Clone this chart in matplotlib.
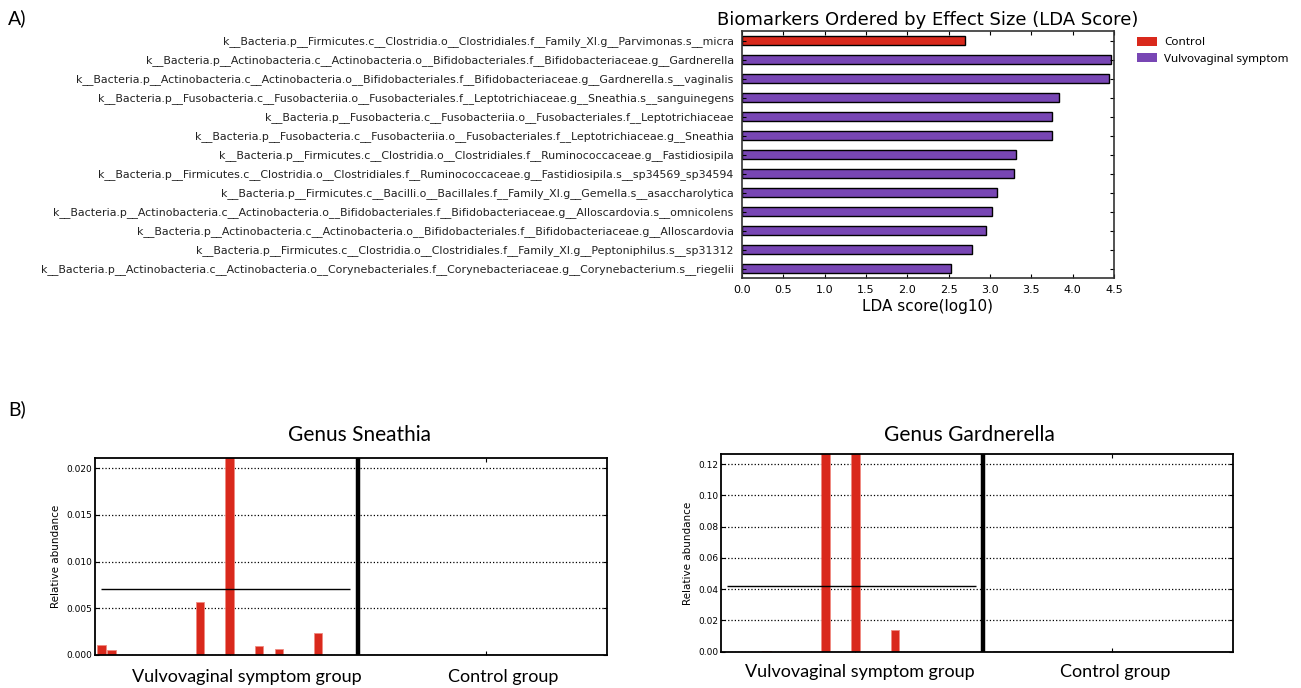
import matplotlib.pyplot as plt
from matplotlib.patches import Patch

# ---- panel A: LDA scores ----
taxa = [
    "k__Bacteria.p__Firmicutes.c__Clostridia.o__Clostridiales.f__Family_XI.g__Parvimonas.s__micra",
    "k__Bacteria.p__Actinobacteria.c__Actinobacteria.o__Bifidobacteriales.f__Bifidobacteriaceae.g__Gardnerella",
    "k__Bacteria.p__Actinobacteria.c__Actinobacteria.o__Bifidobacteriales.f__Bifidobacteriaceae.g__Gardnerella.s__vaginalis",
    "k__Bacteria.p__Fusobacteria.c__Fusobacteriia.o__Fusobacteriales.f__Leptotrichiaceae.g__Sneathia.s__sanguinegens",
    "k__Bacteria.p__Fusobacteria.c__Fusobacteriia.o__Fusobacteriales.f__Leptotrichiaceae",
    "k__Bacteria.p__Fusobacteria.c__Fusobacteriia.o__Fusobacteriales.f__Leptotrichiaceae.g__Sneathia",
    "k__Bacteria.p__Firmicutes.c__Clostridia.o__Clostridiales.f__Ruminococcaceae.g__Fastidiosipila",
    "k__Bacteria.p__Firmicutes.c__Clostridia.o__Clostridiales.f__Ruminococcaceae.g__Fastidiosipila.s__sp34569_sp34594",
    "k__Bacteria.p__Firmicutes.c__Bacilli.o__Bacillales.f__Family_XI.g__Gemella.s__asaccharolytica",
    "k__Bacteria.p__Actinobacteria.c__Actinobacteria.o__Bifidobacteriales.f__Bifidobacteriaceae.g__Alloscardovia.s__omnicolens",
    "k__Bacteria.p__Actinobacteria.c__Actinobacteria.o__Bifidobacteriales.f__Bifidobacteriaceae.g__Alloscardovia",
    "k__Bacteria.p__Firmicutes.c__Clostridia.o__Clostridiales.f__Family_XI.g__Peptoniphilus.s__sp31312",
    "k__Bacteria.p__Actinobacteria.c__Actinobacteria.o__Corynebacteriales.f__Corynebacteriaceae.g__Corynebacterium.s__riegelii",
]
lda = [2.70, 4.46, 4.44, 3.83, 3.75, 3.75, 3.32, 3.29, 3.09, 3.03, 2.95, 2.78, 2.53]
lda_class = ["Control"] + ["Vulvovaginal symptom"] * 12
class_colors = {"Control": "#d9291c", "Vulvovaginal symptom": "#7846b4"}

# ---- panel B: per-sample relative abundance ----
n_vv = 26
n_ctrl = 25
sneathia_vv = [0.00104, 0.0005, 0, 0, 0, 0, 0, 0, 0, 0, 0.00568, 0, 0, 0.1714,
               0, 0, 0.00096, 0, 0.00068, 0, 0, 0, 0.00239, 0, 0, 0]
sneathia_ctrl = [0] * n_ctrl
gard_vv = [0, 0, 0, 0, 0.0002, 0, 0, 0, 0, 0, 0.62, 0, 0, 0.461,
           0, 0, 0, 0.0138, 0, 0, 0, 0, 0, 0, 0, 0]
gard_ctrl = [0] * n_ctrl
group_names = ["Vulvovaginal symptom group", "Control group"]

bfont = "Lato"

fig = plt.figure(figsize=(13.01, 6.88), dpi=100)

# panel A
ax = fig.add_axes([0.5703, 0.5959, 0.2859, 0.359])
ypos = range(len(taxa))
ax.barh(ypos, lda, height=0.5, color=[class_colors[c] for c in lda_class],
        edgecolor="black", linewidth=1)
ax.set_ylim(12.5, -0.5)
ax.set_xlim(0, 4.5)
ax.set_yticks(list(ypos))
ax.set_yticklabels(taxa, fontsize=7.9, color="#222222")
ax.set_xticks([0.5 * i for i in range(10)])
ax.set_xticklabels(["%.1f" % (0.5 * i) for i in range(10)], fontsize=8)
ax.tick_params(direction="in", top=True, right=True, length=3, pad=5)
ax.tick_params(axis="y", length=3, pad=6)
for s in ax.spines.values():
    s.set_linewidth(1.2)
    s.set_color("#333333")
ax.set_title("Biomarkers Ordered by Effect Size (LDA Score)", fontsize=13, pad=4)
ax.set_xlabel("LDA score(log10)", fontsize=11, labelpad=3)
handles = [Patch(facecolor=class_colors[c], edgecolor="none", label=c)
           for c in ["Control", "Vulvovaginal symptom"]]
fig.legend(handles=handles, loc="upper left", bbox_to_anchor=(0.866, 0.962),
           frameon=False, prop={"family": "Noto Sans", "size": 8.4},
           handlelength=1.7, handleheight=0.8, handletextpad=0.6,
           labelspacing=0.45)


def abundance(rect, vv, ctrl, ticks, title, title_x):
    ax = fig.add_axes(rect)
    x_vv = list(range(n_vv))
    x_ctrl = [n_vv + 1 + i for i in range(len(ctrl))]
    ax.bar(x_vv, vv, width=0.86, color="#d9291c", edgecolor="#f08a80", linewidth=0.6)
    ax.bar(x_ctrl, ctrl, width=0.86, color="#d9291c", edgecolor="#b06060", linewidth=0.6)
    m_vv = sum(vv) / len(vv)
    m_ctrl = sum(ctrl) / len(ctrl)
    ax.hlines(m_vv, 0, n_vv - 0.8, color="black", lw=1)
    ax.hlines(m_ctrl, n_vv + 1, n_vv + len(ctrl), color="black", lw=1)
    ax.axvline(n_vv, color="black", lw=3.2)
    ax.set_xlim(-0.62, n_vv + len(ctrl) + 0.3)
    ax.set_ylim(0, 3 * max(m_vv, m_ctrl))
    ax.set_yticks(ticks)
    fmt = "%.3f" if ticks[1] < 0.01 else "%.2f"
    ax.set_yticklabels([fmt % t for t in ticks], fontsize=6.5)
    ax.set_xticks([n_vv / 2, (n_vv + n_vv + len(ctrl) + 1) / 2])
    ax.set_xticklabels([])
    ax.tick_params(direction="in", top=True, right=True, length=3, pad=2)
    ax.yaxis.grid(True, linestyle=":", color="black", lw=0.9)
    ax.set_axisbelow(True)
    for s in ax.spines.values():
        s.set_linewidth(1.3)
    ax.set_ylabel("Relative abundance", fontsize=7.5, labelpad=4)
    fig.text(title_x, 1 - 435 / 688, title, fontsize=15, family=bfont,
             ha="center", va="center")
    return ax


abundance([0.0733, 0.048, 0.3932, 0.2859], sneathia_vv, sneathia_ctrl,
          [0, 0.005, 0.010, 0.015, 0.020], "Genus Sneathia", 359 / 1301)
abundance([0.5542, 0.0528, 0.3935, 0.2869], gard_vv, gard_ctrl,
          [0, 0.02, 0.04, 0.06, 0.08, 0.10, 0.12], "Genus Gardnerella", 969 / 1301)

# group labels under the panels
for (xl, xr, y) in [(247, 502.7, 677), (859.5, 1115, 672)]:
    fig.text(xl / 1301, 1 - y / 688, group_names[0], fontsize=13, family=bfont,
             ha="center", va="center")
    fig.text(xr / 1301, 1 - y / 688, group_names[1], fontsize=13, family=bfont,
             ha="center", va="center")

fig.text(8 / 1301, 1 - 18 / 688, "A)", fontsize=14, family=bfont, va="center")
fig.text(8 / 1301, 1 - 409 / 688, "B)", fontsize=14, family=bfont, va="center")

fig.savefig("out.png", dpi=100)
